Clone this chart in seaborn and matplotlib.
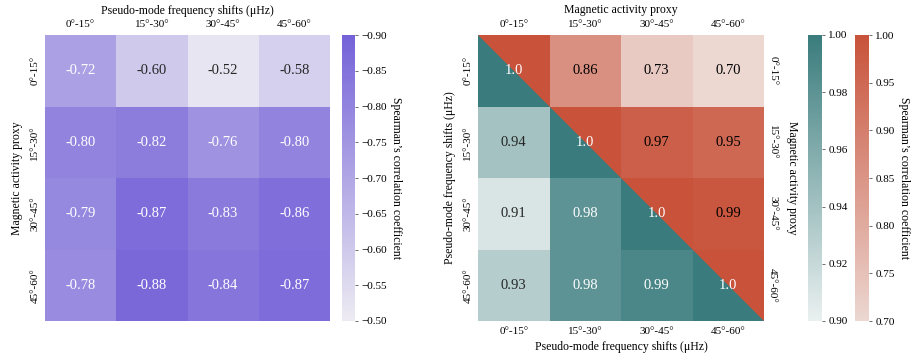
import numpy as np
import pandas as pd
import matplotlib
matplotlib.use("Agg")
import matplotlib.pyplot as plt
from matplotlib.colors import LinearSegmentedColormap
from matplotlib.patches import Polygon
import seaborn as sns

plt.rcParams["font.family"] = ["Liberation Serif", "DejaVu Serif"]

# Latitude bands
bands = ["0°-15°", "15°-30°", "30°-45°", "45°-60°"]

# Magnetic proxy (rows) vs pseudo-mode shifts (columns)
cross_row0 = [-0.72, -0.60, -0.52, -0.58]
cross_row1 = [-0.80, -0.82, -0.76, -0.80]
cross_row2 = [-0.79, -0.87, -0.83, -0.86]
cross_row3 = [-0.78, -0.88, -0.84, -0.87]

# Pseudo-mode shifts between bands (lower triangle, diagonal included)
shift_row0 = [1.0]
shift_row1 = [0.94, 1.0]
shift_row2 = [0.91, 0.98, 1.0]
shift_row3 = [0.93, 0.98, 0.99, 1.0]

# Magnetic proxy between bands (upper triangle, diagonal excluded)
proxy_row0 = [0.86, 0.73, 0.70]
proxy_row1 = [0.97, 0.95]
proxy_row2 = [0.99]

cross = pd.DataFrame([cross_row0, cross_row1, cross_row2, cross_row3],
                     index=bands, columns=bands)

n = len(bands)
shift = np.full((n, n), np.nan)
for i, row in enumerate([shift_row0, shift_row1, shift_row2, shift_row3]):
    shift[i, :len(row)] = row
proxy = np.full((n, n), np.nan)
for i, row in enumerate([proxy_row0, proxy_row1, proxy_row2]):
    proxy[i, i + 1:] = row


def fmt_shift(v):
    if np.isnan(v):
        return ""
    return "1.0" if v == 1.0 else f"{v:.2f}"


def fmt_proxy(v):
    return "" if np.isnan(v) else f"{v:.2f}"


shift_labels = np.vectorize(fmt_shift)(shift)
proxy_labels = np.vectorize(fmt_proxy)(proxy)

purple_cmap = LinearSegmentedColormap.from_list("purple", ["#7462d8", "#edebf2"])
teal_cmap = LinearSegmentedColormap.from_list("teal", ["#eaf0f0", "#3a7c7d"])
red_cmap = LinearSegmentedColormap.from_list("red", ["#ecd7d1", "#c8523a"])

fig = plt.figure(figsize=(9.14, 3.6), dpi=100)
W, H = 914, 360


def add_ax(x0, y0, x1, y1):
    return fig.add_axes([x0 / W, 1 - y1 / H, (x1 - x0) / W, (y1 - y0) / H])


ax1 = add_ax(45, 35, 330, 321)
cax1 = add_ax(342, 35, 355, 321)
ax2 = add_ax(478, 35, 764, 321)
cax_teal = add_ax(808, 35, 822, 321)
cax_red = add_ax(855, 35, 869, 321)

tick_fs = 8
label_fs = 8.5
annot_fs = 10.5

# Left panel
sns.heatmap(cross, ax=ax1, cmap=purple_cmap, vmin=-0.9, vmax=-0.5,
            annot=True, fmt=".2f", annot_kws={"fontsize": annot_fs},
            cbar_ax=cax1, xticklabels=bands, yticklabels=bands)
ax1.xaxis.tick_top()
ax1.xaxis.set_label_position("top")
ax1.set_xlabel("Pseudo-mode frequency shifts (μHz)", fontsize=label_fs, labelpad=5)
ax1.set_ylabel("Magnetic activity proxy", fontsize=label_fs, labelpad=5)
ax1.tick_params(length=0, labelsize=tick_fs, pad=4)
plt.setp(ax1.get_yticklabels(), rotation=90, va="center")
plt.setp(ax1.get_xticklabels(), rotation=0)

cax1.set_yticks([-0.9, -0.85, -0.8, -0.75, -0.7, -0.65, -0.6, -0.55, -0.5])
cax1.invert_yaxis()
cax1.tick_params(length=2.5, width=0.6, labelsize=tick_fs, pad=2, color="#555555")
cax1.set_ylabel("Spearman’s correlation coefficient", rotation=270,
                fontsize=label_fs, labelpad=11)

# Right panel: pseudo-mode shifts in the lower triangle
sns.heatmap(shift, ax=ax2, cmap=teal_cmap, vmin=0.9, vmax=1.0,
            mask=np.isnan(shift), annot=shift_labels, fmt="",
            annot_kws={"fontsize": annot_fs}, cbar_ax=cax_teal,
            xticklabels=bands, yticklabels=bands)
# Magnetic proxy in the upper triangle
sns.heatmap(proxy, ax=ax2, cmap=red_cmap, vmin=0.7, vmax=1.0,
            mask=np.isnan(proxy), annot=proxy_labels, fmt="",
            annot_kws={"fontsize": annot_fs, "color": "black"}, cbar_ax=cax_red,
            xticklabels=bands, yticklabels=bands)

# Split diagonal cells: upper-right half belongs to the proxy matrix
diag_red = red_cmap((1.0 - 0.7) / 0.3)
for i in range(n):
    ax2.add_patch(Polygon([(i, i), (i + 1, i), (i + 1, i + 1)], closed=True,
                          facecolor=diag_red, edgecolor="none", zorder=1))

ax2.set_xlabel("Pseudo-mode frequency shifts (μHz)", fontsize=label_fs, labelpad=4)
ax2.set_ylabel("Pseudo-mode frequency shifts (μHz)", fontsize=label_fs, labelpad=5)
ax2.tick_params(length=0, labelsize=tick_fs, pad=4)
plt.setp(ax2.get_yticklabels(), rotation=90, va="center")
plt.setp(ax2.get_xticklabels(), rotation=0)

centers = np.arange(n) + 0.5
top = ax2.secondary_xaxis("top")
top.set_xticks(centers, labels=bands)
top.tick_params(length=0, labelsize=tick_fs, pad=4)
top.set_xlabel("Magnetic activity proxy", fontsize=label_fs, labelpad=5)
right = ax2.secondary_yaxis("right")
right.set_yticks(centers, labels=bands)
right.tick_params(length=0, labelsize=tick_fs, pad=3)
plt.setp(right.get_yticklabels(), rotation=-90, va="center")
right.set_ylabel("Magnetic activity proxy", rotation=270, fontsize=label_fs, labelpad=15)
for sec in (top, right):
    for sp in sec.spines.values():
        sp.set_visible(False)

teal_ticks = [0.90, 0.92, 0.94, 0.96, 0.98, 1.00]
red_ticks = [0.70, 0.75, 0.80, 0.85, 0.90, 0.95, 1.00]
cax_teal.set_yticks(teal_ticks)
cax_teal.set_yticklabels([f"{v:.2f}" for v in teal_ticks])
cax_teal.tick_params(length=2.5, width=0.6, labelsize=tick_fs, pad=2, color="#555555")
cax_red.set_yticks(red_ticks)
cax_red.set_yticklabels([f"{v:.2f}" for v in red_ticks])
cax_red.tick_params(length=2.5, width=0.6, labelsize=tick_fs, pad=2, color="#555555")
cax_red.set_ylabel("Spearman’s correlation coefficient", rotation=270,
                   fontsize=label_fs, labelpad=11)

fig.savefig("out.png", dpi=100)
